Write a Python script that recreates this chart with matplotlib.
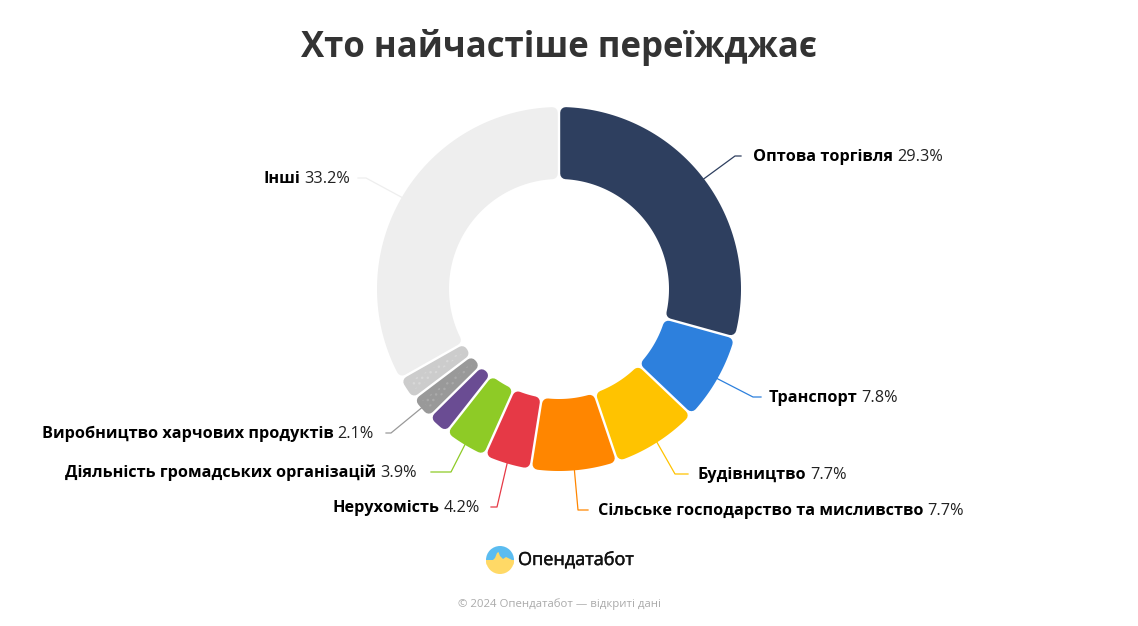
import numpy as np
import matplotlib
matplotlib.use("Agg")
import matplotlib.pyplot as plt
import matplotlib.patheffects as pe
from matplotlib.patches import Polygon, Circle, Wedge

plt.rcParams['font.family'] = ['Open Sans', 'DejaVu Sans']

# data, clockwise from 12 o'clock
names = ['Оптова торгівля', 'Транспорт', 'Будівництво', 'Сільське господарство та мисливство',
         'Нерухомість', 'Діяльність громадських організацій', '', 'Виробництво харчових продуктів', '', 'Інші']
values = [29.3, 7.8, 7.7, 7.7, 4.2, 3.9, 2.0, 2.1, 2.1, 33.2]
colors = ['#2e3f5f', '#2d80dd', '#ffc300', '#ff8600', '#e63946', '#8ecb26',
          '#6a4c93', '#999999', '#cccccc', '#eeeeee']
dotted = [False, False, False, False, False, False, False, True, True, False]

# elbow of the leader, end of the leader, text anchor
leaders = {
    0: ((735, 156), (741, 156), (753, 157), 'left'),
    1: ((753, 397), (761, 397), (769, 398), 'left'),
    2: ((675, 474), (688, 474), (698, 475), 'left'),
    3: ((578, 510), (588, 510), (598, 511), 'left'),
    4: ((497, 507), (491, 507), (480, 508), 'right'),
    5: ((451, 472), (431, 472), (417, 473), 'right'),
    7: ((391, 433), (386, 433), (374, 434), 'right'),
    9: ((366, 178), (358, 178), (350, 179), 'right'),
}

CX, CY = 559, 289
R_OUT, R_IN = 182, 110
CORNER = 5.5
GAP = 1.2


def point(r, a):
    return CX + r * np.sin(a), CY - r * np.cos(a)


def ring_segment(a1, a2):
    """Outline of a ring slice, shrunk so a round stroke gives the rounded corners."""
    s = CORNER + GAP
    ro, ri = R_OUT - CORNER, R_IN + CORNER
    outer = np.linspace(a1 + np.arcsin(s / ro), a2 - np.arcsin(s / ro), 80)
    inner = np.linspace(a2 - np.arcsin(s / ri), a1 + np.arcsin(s / ri), 80)
    xo, yo = point(ro, outer)
    xi, yi = point(ri, inner)
    return np.column_stack([np.r_[xo, xi], np.r_[yo, yi]])


def label(ax, renderer, name, value, x, y, ha):
    # bold name and regular value are two texts side by side
    size = 11.7
    val = f'{value}%'
    if ha == 'left':
        t = ax.text(x, y, name, fontsize=size, fontweight='bold', color='black', ha='left', va='center')
        box = t.get_window_extent(renderer)
        ax.text(box.x1 + 4, y, val, fontsize=size, color='#222222', ha='left', va='center')
    else:
        t = ax.text(x, y, val, fontsize=size, color='#222222', ha='right', va='center')
        box = t.get_window_extent(renderer)
        ax.text(box.x0 - 4, y, name, fontsize=size, fontweight='bold', color='black', ha='right', va='center')


fig = plt.figure(figsize=(11.38, 6.26), dpi=100)
ax = fig.add_axes([0, 0, 1, 1])
ax.set_xlim(0, 1138)
ax.set_ylim(626, 0)
ax.axis('off')
renderer = fig.canvas.get_renderer()

edges = np.r_[0, np.cumsum(values)] / sum(values) * 2 * np.pi
for i, v in enumerate(values):
    shape = ring_segment(edges[i], edges[i + 1])
    ax.add_patch(Polygon(shape, closed=True, facecolor=colors[i], edgecolor=colors[i],
                         lw=2 * CORNER * 0.72, joinstyle='round', zorder=2))
    if dotted[i]:
        ax.add_patch(Polygon(shape, closed=True, fill=False, edgecolor='#aaaaaa' if colors[i] == '#999999' else '#d8d8d8',
                             lw=0, hatch='...', zorder=3))
    if i in leaders:
        mid = (edges[i] + edges[i + 1]) / 2
        elbow, end, anchor, ha = leaders[i]
        sx, sy = point(R_OUT, mid)
        ax.plot([sx, elbow[0], end[0]], [sy, elbow[1], end[1]], color=colors[i], lw=0.9, zorder=1,
                solid_joinstyle='round')
        label(ax, renderer, names[i], v, anchor[0], anchor[1], ha)

ax.text(559, 47, 'Хто найчастіше переїжджає', fontsize=25, fontweight='bold', color='#333333',
        ha='center', va='center')

# logo
disc = Circle((500, 560), 14, transform=ax.transData)
ax.add_patch(Wedge((500, 560), 14, 180, 360, facecolor='#5bbcf0', lw=0))
ax.add_patch(Wedge((500, 560), 14, 0, 180, facecolor='#ffd966', lw=0))
spike = Polygon([(486, 561), (492, 561), (495, 558), (497, 553), (498.5, 552), (500, 556), (503, 559), (506, 557),
                 (514, 561), (514, 565), (486, 565)], closed=True, facecolor='#ffd966', lw=0)
ax.add_patch(spike)
spike.set_clip_path(disc)

ax.text(518, 560, 'Опендатабот', fontsize=13, fontweight='medium', color='#111111', ha='left', va='center',
        path_effects=[pe.withStroke(linewidth=0.35, foreground='#111111')])
ax.text(559, 604, '© 2024 Опендатабот — відкриті дані', fontsize=8.2, color='#aaaaaa', ha='center', va='center')

fig.savefig('out.png', dpi=100, facecolor='white')
